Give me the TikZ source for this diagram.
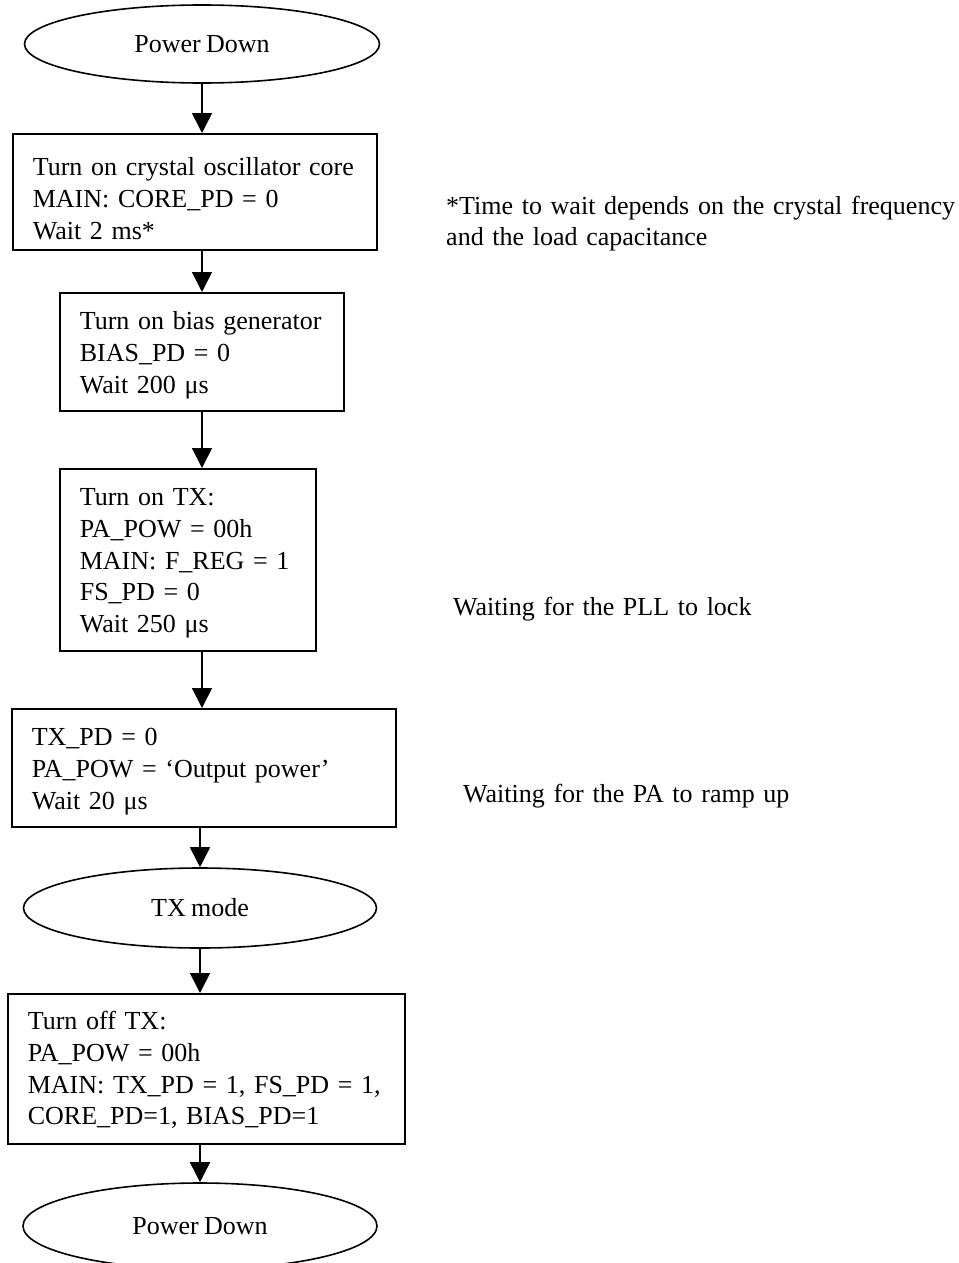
\documentclass[tikz,border=0pt]{standalone}
\usepackage{fontspec}
\setmainfont{Liberation Serif}[WordSpace=0.8]
\usetikzlibrary{shapes.geometric,arrows.meta}

\newcommand{\boxlines}[1]{\begin{tabular}[t]{@{}l@{}}#1\end{tabular}}

\begin{document}
\begin{tikzpicture}[x=1pt, y=-1pt,
    every node/.style={font=\fontsize{26}{31.7}\selectfont},
    state/.style={draw, ellipse, line width=1.6pt, inner sep=0pt},
    stepbox/.style={draw, rectangle, line width=1.6pt, anchor=north west,
        align=left, inner xsep=20pt, inner ysep=0pt},
    note/.style={anchor=base west, align=left, inner sep=0pt, text width=500pt},
    flow/.style={line width=1.6pt, -{Triangle[width=20pt,length=20pt]}}]

    \useasboundingbox (0,0) rectangle (958,1263);

    % Start state
    \node[state, minimum width=355pt, minimum height=78pt] (pdtop) at (202,44) {Power Down};

    % Crystal oscillator
    \node[stepbox, text width=324pt, text height=42pt, text depth=74pt] (core) at (12,133)
        {\boxlines{Turn on crystal oscillator core\\MAIN: CORE\_PD = 0\\Wait 2 ms*}};
    \node[note] (notecore) at (446,214)
        {\boxlines{*Time to wait depends on the crystal frequency\\and the load capacitance}};

    % Bias generator
    \node[stepbox, text width=244pt, text height=37pt, text depth=81pt] (bias) at (59,292)
        {\boxlines{Turn on bias generator\\BIAS\_PD = 0\\Wait 200 μs}};

    % TX on
    \node[stepbox, text width=216pt, text height=37pt, text depth=145pt] (txon) at (59,468)
        {\boxlines{Turn on TX:\\PA\_POW = 00h\\MAIN: F\_REG = 1\\FS\_PD = 0\\Wait 250 μs}};
    \node[note] (notepll) at (453,615) {Waiting for the PLL to lock};

    % PA ramp
    \node[stepbox, text width=344pt, text height=37pt, text depth=81pt] (txpd) at (11,708)
        {\boxlines{TX\_PD = 0\\PA\_POW = `Output power'\\Wait 20 μs}};
    \node[note] (notepa) at (463,802) {Waiting for the PA to ramp up};

    % TX mode
    \node[state, minimum width=353pt, minimum height=80pt] (txmode) at (200,908) {TX mode};

    % TX off
    \node[stepbox, text width=357pt, text height=36pt, text depth=114pt] (txoff) at (7,993)
        {\boxlines{Turn off TX:\\PA\_POW = 00h\\MAIN: TX\_PD = 1, FS\_PD = 1,\\CORE\_PD=1, BIAS\_PD=1}};

    % End state
    \node[state, minimum width=354pt, minimum height=86pt] (pdend) at (200,1226) {Power Down};

    % Flow
    \draw[flow] (pdtop.south) -- (pdtop.south |- core.north);
    \draw[flow] (core.south -| pdtop) -- (bias.north -| pdtop);
    \draw[flow] (bias.south -| pdtop) -- (txon.north -| pdtop);
    \draw[flow] (txon.south -| pdtop) -- (txpd.north -| pdtop);
    \draw[flow] (txpd.south -| txmode) -- (txmode.north);
    \draw[flow] (txmode.south) -- (txoff.north -| txmode);
    \draw[flow] (txoff.south -| txmode) -- (pdend.north);

\end{tikzpicture}
\end{document}
